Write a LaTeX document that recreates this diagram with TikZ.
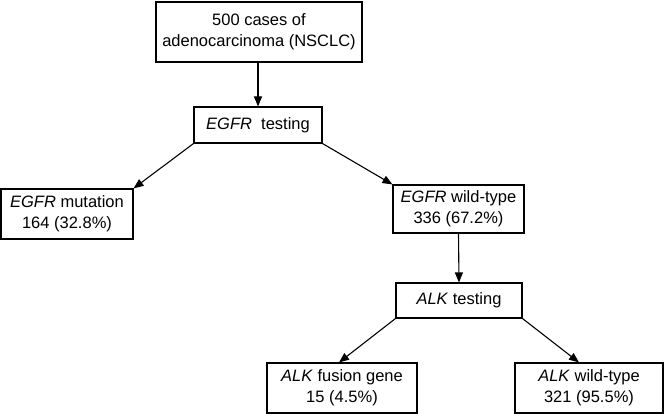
\documentclass[tikz,border=0pt]{standalone}
\usepackage{fontspec}
\setmainfont{Liberation Sans}
\usetikzlibrary{arrows.meta,calc}

\begin{document}
\begin{tikzpicture}[x=1pt, y=-1pt,
	box/.style={draw, line width=1.1pt, inner sep=0pt, align=center,
		font=\fontsize{16.5}{21}\selectfont},
	arr/.style={line width=1.1pt, -{Triangle[length=10pt,width=8pt]}}]
		%%%%% START %%%%%
		\useasboundingbox (0, 0) rectangle (664, 414);
		
		\node[box, minimum width=206, minimum height=60] (cases) at (259, 32) {500 cases of\\adenocarcinoma (NSCLC)};
		\node[box, minimum width=128, minimum height=36] (egfrtest) at (258, 125) {\textit{EGFR}\ \ testing};
		
		\node[box, minimum width=132, minimum height=50] (egfrmut) at (67, 214) {\textit{EGFR} mutation\\164 (32.8\%)};
		\node[box, minimum width=131, minimum height=48] (egfrwt) at (458.5, 209) {\textit{EGFR} wild-type\\336 (67.2\%)};
		
		\node[box, minimum width=126, minimum height=35] (alktest) at (459, 300.5) {\textit{ALK} testing};
		
		\node[box, minimum width=150, minimum height=50] (alkfus) at (342, 388) {\textit{ALK} fusion gene\\15 (4.5\%)};
		\node[box, minimum width=148, minimum height=50] (alkwt) at (589, 388) {\textit{ALK} wild-type\\321 (95.5\%)};
		
		\coordinate (fusin) at ($(alkfus.north)+(-3, 0)$);
		\coordinate (wtin) at ($(alkwt.north)+(-10, 0)$);
		
		\draw[arr] (egfrtest.north |- cases.south) -- (egfrtest.north);
		\draw[arr] (egfrtest.south west) -- (egfrmut.north east);
		\draw[arr] (egfrtest.south east) -- (egfrwt.north west);
		\draw[arr] (egfrwt.south) -- (alktest.north);
		\draw[arr] (alktest.south west) -- (fusin);
		\draw[arr] (alktest.south east) -- (wtin);
		%%%%% END %%%%%
	\end{tikzpicture}
\end{document}
